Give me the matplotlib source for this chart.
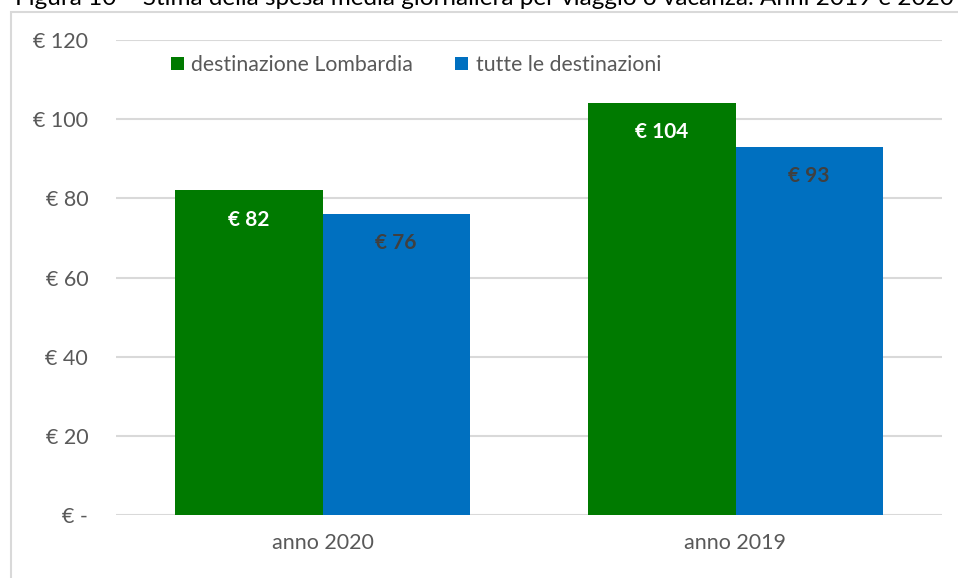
import numpy as np
import matplotlib.pyplot as plt
from matplotlib.patches import Rectangle

categorie = ["anno 2020", "anno 2019"]
serie = ["destinazione Lombardia", "tutte le destinazioni"]
lombardia = [82, 104]
tutte = [76, 93]
tick_val = [0, 20, 40, 60, 80, 100, 120]
tick_lab = ["€ -", "€ 20", "€ 40", "€ 60", "€ 80", "€ 100", "€ 120"]
titolo = "Figura 10 – Stima della spesa media giornaliera per viaggio o vacanza. Anni 2019 e 2020"

plt.rcParams['font.family'] = ['Lato', 'DejaVu Sans']
W, H = 958, 578
fig = plt.figure(figsize=(W / 100, H / 100), dpi=100)
ax = fig.add_axes([116 / W, 1 - 515 / H, (942 - 116) / W, (515 - 40) / H])

# cornice del grafico
fig.patches.append(Rectangle((11 / W, 0 - 0.05), 1.1, 1 - 12 / H + 0.05, transform=fig.transFigure,
                             fill=False, edgecolor="#D9D9D9", linewidth=1.5))
fig.text(15 / W, 1 - 5 / H, titolo, fontsize=17.5, color="black", va="baseline", ha="left")

x = np.arange(len(categorie))
w = 0.357
b1 = ax.bar(x - w / 2, lombardia, w, color="#007A00", label=serie[0], zorder=3)
b2 = ax.bar(x + w / 2, tutte, w, color="#0070C0", label=serie[1], zorder=3)

for bars, col in ((b1, "white"), (b2, "#404040")):
    for r in bars:
        ax.annotate(f"€ {r.get_height():.0f}", (r.get_x() + r.get_width() / 2, r.get_height()),
                    xytext=(0, -21), textcoords="offset points", ha="center", va="center",
                    fontsize=15, fontweight="bold", color=col, zorder=4)

ax.set_xlim(-0.5, 1.5)
ax.set_ylim(0, 120)
ax.set_yticks(tick_val)
ax.set_yticklabels(tick_lab)
ax.set_xticks(x)
ax.set_xticklabels(categorie)
ax.tick_params(axis="y", length=0, pad=20, labelsize=15.5, labelcolor="#595959")
ax.tick_params(axis="x", length=0, pad=13, labelsize=15.5, labelcolor="#595959")
ax.grid(axis="y", color="#D9D9D9", linewidth=1.5, zorder=0)
for s in ax.spines.values():
    s.set_visible(False)

leg = ax.legend(loc="upper left", bbox_to_anchor=(40 / 826, 1.0), ncol=2, frameon=False,
                fontsize=15.3, handlelength=0.6, handleheight=0.6, handletextpad=0.35,
                columnspacing=2.0, borderaxespad=0.3, labelcolor="#595959")

fig.savefig("out.png", dpi=100)
